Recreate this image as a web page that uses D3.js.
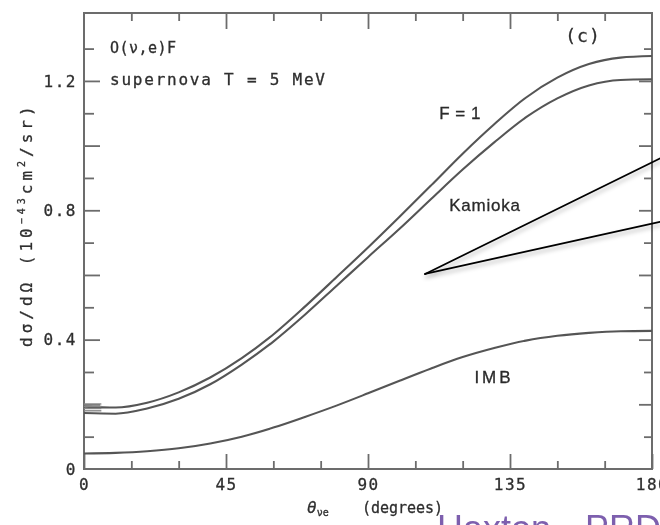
<!DOCTYPE html>
<html>
<head>
<meta charset="utf-8">
<script src="https://cdn.jsdelivr.net/npm/d3@7"></script>
<style>
  html, body { margin: 0; padding: 0; background: #fff; }
  svg { display: block; }
  .mono { font-family: "DejaVu Sans Mono", "Liberation Mono", monospace; fill: #2e2e2e; stroke: #2e2e2e; stroke-width: 0.3; }
  .sans { font-family: "Liberation Sans", Arial, sans-serif; fill: #2a2a2a; stroke: #2a2a2a; stroke-width: 0.3; }
</style>
</head>
<body>
<svg id="chart" width="660" height="525"></svg>
<script>
// Scattering angle grid (degrees)
const angles = [0, 10, 20, 30, 40, 50, 60, 70, 80, 90, 100, 110, 120, 130, 140, 150, 160, 170, 180];

// dσ/dΩ in units of 1e-43 cm^2/sr
const fullStrength = [0.193, 0.190, 0.205, 0.237, 0.283, 0.343, 0.416, 0.502, 0.593, 0.685,
                      0.780, 0.877, 0.975, 1.066, 1.148, 1.210, 1.252, 1.272, 1.277];
const kamioka      = [0.173, 0.171, 0.187, 0.217, 0.262, 0.323, 0.394, 0.477, 0.566, 0.655,
                      0.743, 0.835, 0.926, 1.010, 1.087, 1.146, 1.186, 1.203, 1.205];
const imb          = [0.048, 0.050, 0.055, 0.064, 0.079, 0.100, 0.128, 0.161, 0.196, 0.234,
                      0.273, 0.311, 0.346, 0.374, 0.397, 0.412, 0.421, 0.426, 0.427];

// Forward-angle band near 0 degrees
const forwardBand = [0.180, 0.187, 0.194, 0.201];
const forwardBandEnd = 5.5;

// Axis ticks
const xMajorTicks = [0, 45, 90, 135, 180];
const xMinorTicks = [15, 30, 60, 75, 105, 120, 150, 165];
const yLabelTicks = [0, 0.4, 0.8, 1.2];
const yLongTicks  = [0.2, 0.4, 0.6, 0.8, 1.0, 1.2];
const yShortTicks = [0.1, 0.3, 0.5, 0.7, 0.9, 1.1, 1.3];

// Callout: apex and two far ends, in data coordinates
const calloutApex = [108.1, 0.603];
const calloutEnds = [[182.5, 0.960], [182.5, 0.764]];

const svg = d3.select("#chart");
const plotL = 84, plotR = 652, plotT = 13, plotB = 469;
const x = d3.scaleLinear().domain([0, 180]).range([plotL, plotR]);
const y = d3.scaleLinear().domain([0, 1.41]).range([plotB, plotT]);

const defs = svg.append("defs");
defs.append("filter").attr("id", "soft")
  .attr("x", "-5%").attr("y", "-5%").attr("width", "110%").attr("height", "110%")
  .append("feGaussianBlur").attr("stdDeviation", 0.55);
const sh = defs.append("filter").attr("id", "shadow")
  .attr("x", "-10%").attr("y", "-20%").attr("width", "130%").attr("height", "160%");
sh.append("feDropShadow").attr("dx", 1).attr("dy", 3).attr("stdDeviation", 2.2)
  .attr("flood-color", "#000").attr("flood-opacity", 0.3);

const fig = svg.append("g").attr("filter", "url(#soft)");

// frame
fig.append("rect")
  .attr("x", plotL).attr("y", plotT).attr("width", plotR - plotL).attr("height", plotB - plotT)
  .attr("fill", "none").attr("stroke", "#6c6c6c").attr("stroke-width", 2);

function styleAxis(g) {
  g.select(".domain").remove();
  g.selectAll(".tick line").attr("stroke", "#6c6c6c").attr("stroke-width", 1.8);
  g.selectAll("text").attr("class", "mono").attr("font-size", 16).attr("letter-spacing", 1.5);
}

// bottom axis
fig.append("g").attr("transform", `translate(0,${plotB})`)
  .call(d3.axisBottom(x).tickValues(xMajorTicks).tickSize(-15).tickPadding(10).tickFormat(d3.format("d")))
  .call(styleAxis);
fig.append("g").attr("transform", `translate(0,${plotB})`)
  .call(d3.axisBottom(x).tickValues(xMinorTicks).tickSize(-8).tickFormat(""))
  .call(styleAxis);
// top axis
fig.append("g").attr("transform", `translate(0,${plotT})`)
  .call(d3.axisTop(x).tickValues(xMajorTicks.slice(1, -1)).tickSize(-16).tickFormat(""))
  .call(styleAxis);
fig.append("g").attr("transform", `translate(0,${plotT})`)
  .call(d3.axisTop(x).tickValues(xMinorTicks).tickSize(-8).tickFormat(""))
  .call(styleAxis);
// left axis
fig.append("g").attr("transform", `translate(${plotL},0)`)
  .call(d3.axisLeft(y).tickValues(yLongTicks).tickSize(-16).tickFormat(""))
  .call(styleAxis);
fig.append("g").attr("transform", `translate(${plotL},0)`)
  .call(d3.axisLeft(y).tickValues(yShortTicks).tickSize(-10).tickFormat(""))
  .call(styleAxis);
fig.append("g").attr("transform", `translate(${plotL},0)`)
  .call(d3.axisLeft(y).tickValues(yLabelTicks).tickSize(0).tickPadding(7)
        .tickFormat(d => d === 0 ? "0" : d3.format(".1f")(d)))
  .call(styleAxis);
// right axis
fig.append("g").attr("transform", `translate(${plotR},0)`)
  .call(d3.axisRight(y).tickValues(yLongTicks).tickSize(-13).tickFormat(""))
  .call(styleAxis);
fig.append("g").attr("transform", `translate(${plotR},0)`)
  .call(d3.axisRight(y).tickValues(yShortTicks).tickSize(-8).tickFormat(""))
  .call(styleAxis);

// curves
const line = d3.line().x(d => x(d[0])).y(d => y(d[1])).curve(d3.curveMonotoneX);
[fullStrength, kamioka, imb].forEach(series => {
  fig.append("path")
    .datum(angles.map((a, i) => [a, series[i]]))
    .attr("d", line)
    .attr("fill", "none").attr("stroke", "#555").attr("stroke-width", 2.1);
});

// forward band
fig.append("g").selectAll("line").data(forwardBand).join("line")
  .attr("x1", x(0)).attr("x2", x(forwardBandEnd))
  .attr("y1", d => y(d)).attr("y2", d => y(d))
  .attr("stroke", "#888").attr("stroke-width", 1.4);

// curve labels
fig.append("text").attr("class", "sans").attr("x", 460).attr("y", 119)
  .attr("font-size", 17).attr("text-anchor", "middle").attr("letter-spacing", 0.5)
  .text("F = 1");
fig.append("text").attr("class", "sans").attr("x", 485).attr("y", 211)
  .attr("font-size", 17).attr("text-anchor", "middle").attr("letter-spacing", 0.8)
  .text("Kamioka");
fig.append("text").attr("class", "sans").attr("x", 494).attr("y", 383)
  .attr("font-size", 17).attr("text-anchor", "middle").attr("letter-spacing", 3)
  .text("IMB");

// panel text
fig.append("text").attr("class", "mono").attr("x", 110).attr("y", 53)
  .attr("font-size", 15).attr("textLength", 66).attr("lengthAdjust", "spacing")
  .text("O(ν,e)F");
fig.append("text").attr("class", "mono").attr("x", 110).attr("y", 85)
  .attr("font-size", 16).attr("textLength", 215).attr("lengthAdjust", "spacing")
  .text("supernova T = 5 MeV");
fig.append("text").attr("class", "mono").attr("x", 583).attr("y", 42)
  .attr("font-size", 18).attr("text-anchor", "middle").attr("letter-spacing", 1)
  .text("(c)");

// axis titles
const xt = fig.append("text").attr("class", "mono").attr("x", 307).attr("y", 513).attr("font-size", 16);
xt.append("tspan").attr("font-style", "italic").text("θ");
xt.append("tspan").attr("font-size", 10).attr("dy", 3).text("νe");
fig.append("text").attr("class", "mono").attr("x", 362).attr("y", 513)
  .attr("font-size", 15).attr("textLength", 81).attr("lengthAdjust", "spacing").text("(degrees)");

const yt = fig.append("text").attr("class", "mono").attr("font-size", 16)
  .attr("transform", "translate(32,347) rotate(-90)").attr("letter-spacing", 4);
yt.append("tspan").text("dσ/dΩ (10");
yt.append("tspan").attr("font-size", 10).attr("dy", -7).text("−43");
yt.append("tspan").attr("dy", 7).text("cm");
yt.append("tspan").attr("font-size", 10).attr("dy", -7).text("2");
yt.append("tspan").attr("dy", 7).text("/sr)");

// callout lines
const callout = svg.append("g").attr("filter", "url(#shadow)");
calloutEnds.forEach(end => {
  callout.append("line")
    .attr("x1", x(calloutApex[0])).attr("y1", y(calloutApex[1]))
    .attr("x2", x(end[0])).attr("y2", y(end[1]))
    .attr("stroke", "#000").attr("stroke-width", 1.8).attr("stroke-linecap", "round");
});

// reference note along the bottom edge
svg.append("text").attr("x", 437).attr("y", 541)
  .attr("font-family", "Liberation Sans, Arial, sans-serif").attr("font-size", 36)
  .attr("fill", "#7d5fae").text("Haxton");
svg.append("text").attr("x", 585).attr("y", 541)
  .attr("font-family", "Liberation Sans, Arial, sans-serif").attr("font-size", 36)
  .attr("fill", "#7d5fae").text("PRD");
</script>
</body>
</html>
